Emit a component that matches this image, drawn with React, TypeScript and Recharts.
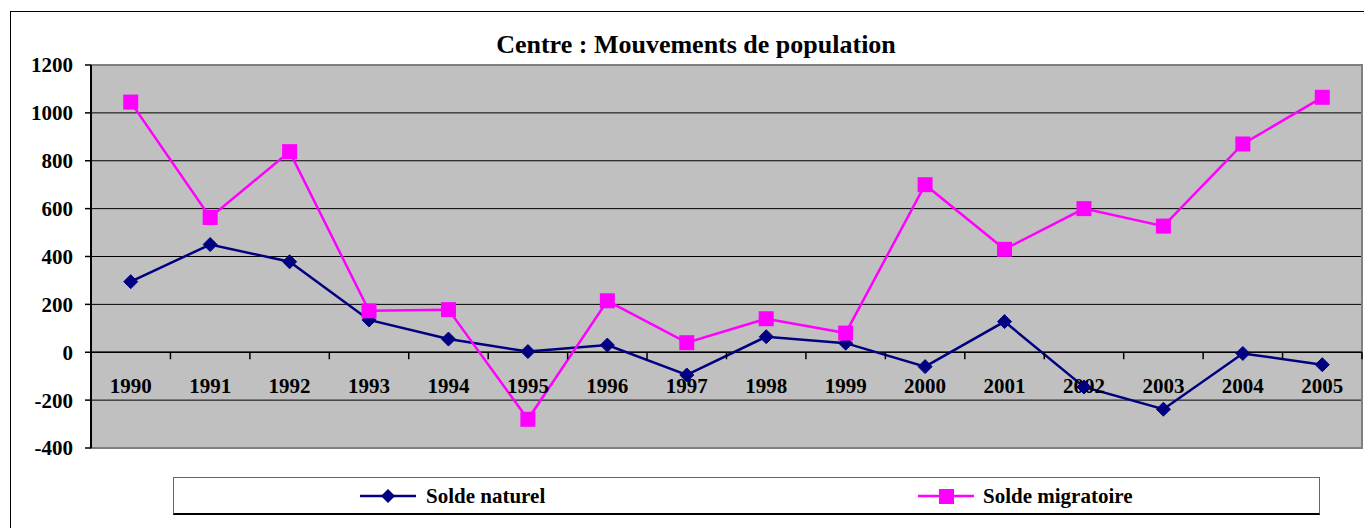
import React from 'react';
import {
  LineChart,
  Line,
  XAxis,
  YAxis,
  CartesianGrid,
  ReferenceArea,
  ReferenceDot,
  ReferenceLine,
  Legend,
} from 'recharts';

const years = [1990, 1991, 1992, 1993, 1994, 1995, 1996, 1997, 1998, 1999, 2000, 2001, 2002, 2003, 2004, 2005];
const soldeNaturel = [295, 450, 378, 135, 55, 3, 30, -95, 65, 38, -60, 128, -145, -238, -5, -52];
const soldeMigratoire = [1045, 563, 838, 173, 178, -280, 215, 40, 140, 80, 700, 430, 600, 527, 870, 1065];
const yTicks = [-400, -200, 0, 200, 400, 600, 800, 1000, 1200];
const seriesNames = ['Solde naturel', 'Solde migratoire'];
const title = 'Centre : Mouvements de population';

const data = years.map((year, i) => ({
  year,
  naturel: soldeNaturel[i],
  migratoire: soldeMigratoire[i],
}));
const boundaries = [...years.map((y) => y - 0.5), years[years.length - 1] + 0.5];

const FONT = "'Liberation Serif', 'Times New Roman', Times, serif";
const NAVY = '#000080';
const MAGENTA = '#FF00FF';
const W = 1364;
const H = 520;

const Diamond = (props: any) => {
  const { cx, cy } = props;
  if (cx == null || cy == null) return null;
  const r = 7;
  return <path d={`M${cx},${cy - r}L${cx + r},${cy}L${cx},${cy + r}L${cx - r},${cy}Z`} fill={NAVY} stroke={NAVY} strokeWidth={1} />;
};

const Square = (props: any) => {
  const { cx, cy } = props;
  if (cx == null || cy == null) return null;
  const s = 7.5;
  return <rect x={cx - s} y={cy - s} width={2 * s} height={2 * s} fill={MAGENTA} stroke={MAGENTA} strokeWidth={0} />;
};

const LegendContent = () => (
  <div
    style={{
      position: 'relative',
      width: 1147,
      height: 38,
      boxSizing: 'border-box',
      borderTop: '1px solid #666',
      borderLeft: '1px solid #666',
      borderRight: '1px solid #666',
      borderBottom: '2px solid #000',
      background: '#fff',
      fontFamily: FONT,
      fontWeight: 'bold',
      fontSize: 21,
    }}
  >
    <div style={{ position: 'absolute', left: 186, top: 0, height: 36, display: 'flex', alignItems: 'center' }}>
      <svg width={56} height={20} style={{ display: 'block' }}>
        <line x1={0} y1={10} x2={56} y2={10} stroke={NAVY} strokeWidth={2.5} />
        <path d="M28,3L35,10L28,17L21,10Z" fill={NAVY} />
      </svg>
      <span style={{ marginLeft: 10, color: '#000' }}>{seriesNames[0]}</span>
    </div>
    <div style={{ position: 'absolute', left: 744, top: 0, height: 36, display: 'flex', alignItems: 'center' }}>
      <svg width={56} height={20} style={{ display: 'block' }}>
        <line x1={0} y1={10} x2={56} y2={10} stroke={MAGENTA} strokeWidth={2.5} />
        <rect x={21} y={3} width={15} height={15} fill={MAGENTA} />
      </svg>
      <span style={{ marginLeft: 9, color: '#000' }}>{seriesNames[1]}</span>
    </div>
  </div>
);

export default function App() {
  return (
    <div style={{ position: 'relative', width: W, height: H, overflow: 'hidden', background: '#fff' }}>
      <div
        style={{
          position: 'absolute',
          left: 2,
          top: 3,
          width: W + 40,
          height: H + 40,
          border: '1px solid #000',
          boxSizing: 'border-box',
        }}
      />
      <svg width={W} height={60} style={{ position: 'absolute', left: 0, top: 0 }}>
        <text x={688} y={45} textAnchor="middle" fontFamily={FONT} fontWeight="bold" fontSize={26} fill="#000">
          {title}
        </text>
      </svg>
      <div style={{ position: 'absolute', left: 0, top: 0 }}>
        <LineChart width={W} height={H} data={data} margin={{ top: 57, right: 10, bottom: 80, left: 0 }}>
          <CartesianGrid vertical={false} horizontal={true} stroke="#000" strokeWidth={1} fill="#C0C0C0" fillOpacity={1} />
          <XAxis type="number" dataKey="year" domain={[1989.5, 2005.5]} hide />
          <YAxis
            type="number"
            domain={[-400, 1200]}
            ticks={yTicks}
            interval={0}
            width={83}
            axisLine={{ stroke: '#000', strokeWidth: 2 }}
            tickLine={{ stroke: '#000', strokeWidth: 1.5 }}
            tickSize={6}
            tickMargin={12}
            tick={{ fontFamily: FONT, fontWeight: 'bold', fontSize: 21, fill: '#000' }}
          />
          <ReferenceArea x1={1989.5} x2={2005.5} y1={-400} y2={1200} fill="none" stroke="#808080" strokeWidth={2} />
          <ReferenceLine y={0} stroke="#000" strokeWidth={1.5} />
          {boundaries.map((b) => (
            <ReferenceDot
              key={`t${b}`}
              x={b}
              y={0}
              r={0}
              shape={(p: any) => <line x1={p.cx} y1={p.cy} x2={p.cx} y2={p.cy + 7} stroke="#000" strokeWidth={1.5} />}
            />
          ))}
          {years.map((yr) => (
            <ReferenceDot
              key={`l${yr}`}
              x={yr}
              y={0}
              r={0}
              shape={(p: any) => (
                <text x={p.cx} y={p.cy + 33} textAnchor="middle" dy="0.36em" fontFamily={FONT} fontWeight="bold" fontSize={21} fill="#000">
                  {yr}
                </text>
              )}
            />
          ))}
          <Line
            type="linear"
            dataKey="naturel"
            name={seriesNames[0]}
            stroke={NAVY}
            strokeWidth={2.5}
            dot={<Diamond />}
            activeDot={false}
            isAnimationActive={false}
          />
          <Line
            type="linear"
            dataKey="migratoire"
            name={seriesNames[1]}
            stroke={MAGENTA}
            strokeWidth={2.5}
            dot={<Square />}
            activeDot={false}
            isAnimationActive={false}
          />
          <Legend
            layout="horizontal"
            verticalAlign="middle"
            align="center"
            content={() => <LegendContent />}
            wrapperStyle={{ position: 'absolute', left: 165, top: 469, width: 1147, height: 38 }}
          />
        </LineChart>
      </div>
    </div>
  );
}
